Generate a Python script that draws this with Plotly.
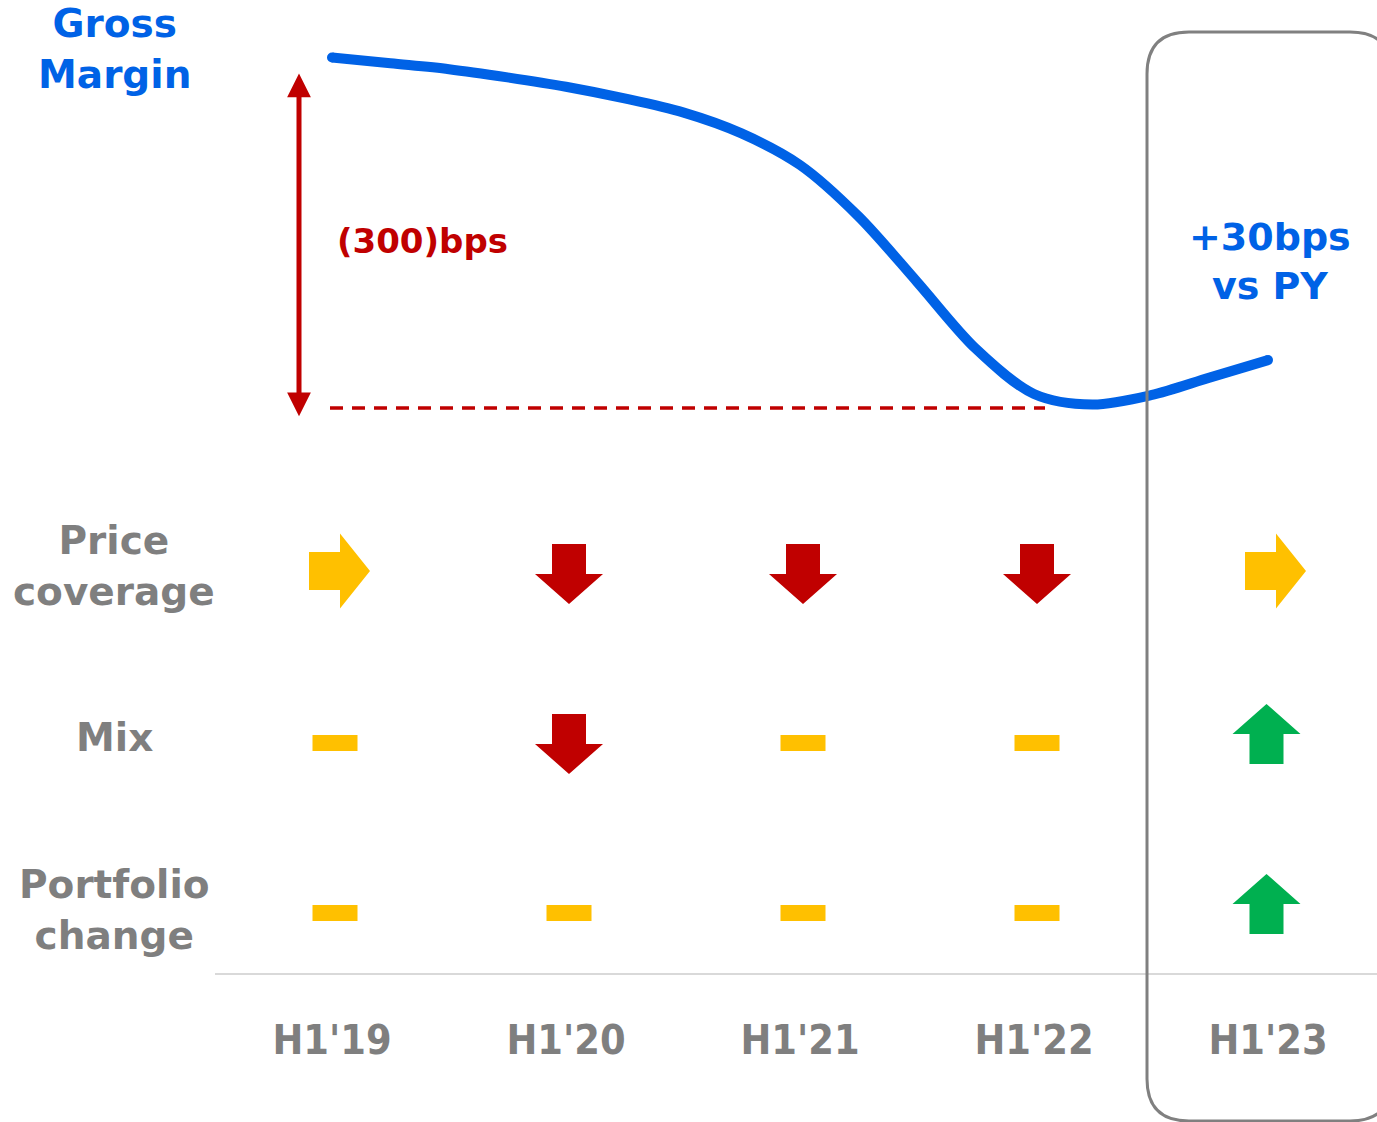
import plotly.graph_objects as go

# ---------------- data ----------------
periods = ["H1'19", "H1'20", "H1'21", "H1'22", "H1'23"]
# gross margin path (bps vs H1'19) at quarter-period steps
gm_pos = [0, 0.25, 0.5, 0.75, 1.0, 1.25, 1.5, 1.75, 2.0, 2.25, 2.5, 2.75, 3.0, 3.25, 3.5, 3.75, 4.0]
gm_bps = [0, -5, -10, -17, -25, -35, -47, -65, -92, -136, -192, -249, -288, -297, -289, -274, -259]
decline_bps = -300
decline_label = "(300)bps"
latest_label = "+30bps<br>vs PY"
title_label = "Gross<br>Margin"

drivers = ["Price<br>coverage", "Mix", "Portfolio<br>change"]
price_coverage = ["right", "down", "down", "down", "right"]
mix = ["flat", "down", "flat", "flat", "up"]
portfolio_change = ["flat", "flat", "flat", "flat", "up"]
driver_values = [price_coverage, mix, portfolio_change]

# ---------------- styling / layout constants ----------------
W, H = 1377, 1122
L_PX = 215            # left edge of plot area
B_PX = 973            # baseline (bottom of plot area)
X0_PX, STEP_PX = 332, 234
TOP_SPLIT_PX = 440
ZERO_PX = 57.5
PX_PER_BPS = 350.5 / 300
ROW0_PX, ROW_STEP_PX = 571, 170

BLUE = "#0062E6"
RED = "#C00000"
GREY = "#7F7F7F"
YELLOW = "#FFC000"
GREEN = "#00B050"
LABEL_FONT = "DejaVu Sans"
TICK_FONT = "DejaVu Sans Condensed"


def paper_x(px):
    return (px - L_PX) / (W - L_PX)


def paper_y(px):
    return (B_PX - px) / B_PX


def data_x(px):
    return (px - X0_PX) / STEP_PX


def bps_at(px):
    return (ZERO_PX - px) / PX_PER_BPS


fig = go.Figure()

# gross margin curve
fig.add_trace(go.Scatter(
    x=gm_pos, y=gm_bps, mode="lines", line=dict(color=BLUE, width=10, shape="spline", smoothing=0.9),
    xaxis="x", yaxis="y", hoverinfo="skip", showlegend=False))
fig.add_trace(go.Scatter(
    x=[gm_pos[0], gm_pos[-1]], y=[gm_bps[0], gm_bps[-1]], mode="markers",
    marker=dict(color=BLUE, size=10), xaxis="x", yaxis="y", hoverinfo="skip", showlegend=False))

# dashed trough line
fig.add_shape(type="line", xref="x", yref="y", x0=data_x(330), x1=data_x(1045),
              y0=decline_bps, y1=decline_bps, line=dict(color=RED, width=3.5, dash="13px,9px"))

# double-headed red arrow
ax_x = data_x(299)
fig.add_annotation(x=ax_x, y=decline_bps - 7, ax=ax_x, ay=-12, xref="x", yref="y", axref="x", ayref="y",
                   text=" ", font=dict(size=1), showarrow=True, arrowhead=2, startarrowhead=2,
                   arrowside="end+start", arrowwidth=5, arrowsize=0.95, startarrowsize=0.95,
                   arrowcolor=RED)

# text labels
fig.add_annotation(x=data_x(335), y=paper_y(241), xref="x", yref="paper", text=decline_label,
                   showarrow=False, xanchor="left", yanchor="middle",
                   font=dict(family=LABEL_FONT, size=34, color=RED, weight="bold"))
fig.add_annotation(x=4 + data_x(X0_PX + 2), y=paper_y(262), xref="x", yref="paper", text=latest_label,
                   showarrow=False, xanchor="center", yanchor="middle", align="center",
                   font=dict(family=LABEL_FONT, size=38, color=BLUE, weight="bold"))
fig.add_annotation(x=paper_x(114), y=paper_y(49), xref="paper", yref="paper", text=title_label,
                   showarrow=False, xanchor="center", yanchor="middle", align="center",
                   font=dict(family=LABEL_FONT, size=39, color=BLUE, weight="bold"))
label_centers = [566, 737, 910]
for lab, cy in zip(drivers, label_centers):
    fig.add_annotation(x=paper_x(114), y=paper_y(cy), xref="paper", yref="paper", text=lab,
                       showarrow=False, xanchor="center", yanchor="middle", align="center",
                       font=dict(family=LABEL_FONT, size=39, color=GREY, weight="bold"))


# indicator shapes (sizes/offsets in pixels, converted to axis units)
SHAPES = {
    "down": ([(-17, -30), (17, -30), (17, 0), (34, 0), (0, 30), (-34, 0), (-17, 0)], 3, 3),
    "up": ([(-17, 30), (17, 30), (17, 0), (34, 0), (0, -30), (-34, 0), (-17, 0)], -1.5, -7),
    "right": ([(-30, -19), (1, -19), (1, -37.5), (31, 0), (1, 37.5), (1, 19), (-30, 19)], 7, 0),
    "flat": ([(-22.5, -8), (22.5, -8), (22.5, 8), (-22.5, 8)], 3, 2),
}


def arrow_path(kind, xi, row):
    pts, ox, oy = SHAPES[kind]
    return "M" + " L".join(
        f"{xi + (dx + ox) / STEP_PX:.5f},{row + (dy + oy) / ROW_STEP_PX:.5f}" for dx, dy in pts) + " Z"


colors = {"down": RED, "up": GREEN, "right": YELLOW, "flat": YELLOW}
for r, row in enumerate(driver_values):
    for i, kind in enumerate(row):
        fig.add_shape(type="path", xref="x", yref="y2", path=arrow_path(kind, i, r),
                      fillcolor=colors[kind], line=dict(width=0), layer="above")

# rounded highlight box around latest period (pixel-based decoration)
bx0, by0, bx1, by1, rad = 1147, 32, 1392, 1121, 42


def P(px, py):
    return f"{paper_x(px):.5f},{paper_y(py):.5f}"


box = (f"M{P(bx0, by0 + rad)} Q{P(bx0, by0)} {P(bx0 + rad, by0)} L{P(bx1 - rad, by0)} "
       f"Q{P(bx1, by0)} {P(bx1, by0 + rad)} L{P(bx1, by1 - rad)} Q{P(bx1, by1)} {P(bx1 - rad, by1)} "
       f"L{P(bx0 + rad, by1)} Q{P(bx0, by1)} {P(bx0, by1 - rad)} Z")
fig.add_shape(type="path", xref="paper", yref="paper", path=box,
              line=dict(color="#808080", width=3), layer="above")

split = 1 - TOP_SPLIT_PX / B_PX
fig.update_layout(
    template="none",
    width=W, height=H,
    margin=dict(l=L_PX, r=0, t=0, b=H - B_PX, pad=0),
    paper_bgcolor="white", plot_bgcolor="white",
    showlegend=False,
    xaxis=dict(range=[data_x(L_PX), data_x(W)], tickvals=list(range(len(periods))), ticktext=periods,
               showgrid=False, zeroline=False, showline=True, linecolor="#D9D9D9", linewidth=2,
               ticks="", anchor="y2", ticklabelstandoff=30, automargin=False,
               tickfont=dict(family=TICK_FONT, size=41, color=GREY, weight="bold")),
    yaxis=dict(domain=[split, 1], range=[bps_at(TOP_SPLIT_PX), bps_at(0)], visible=False,
               showgrid=False, zeroline=False),
    yaxis2=dict(domain=[0, split],
                range=[(B_PX - ROW0_PX) / ROW_STEP_PX, (TOP_SPLIT_PX - ROW0_PX) / ROW_STEP_PX],
                visible=False, showgrid=False, zeroline=False),
)

fig.write_html("out.html")
